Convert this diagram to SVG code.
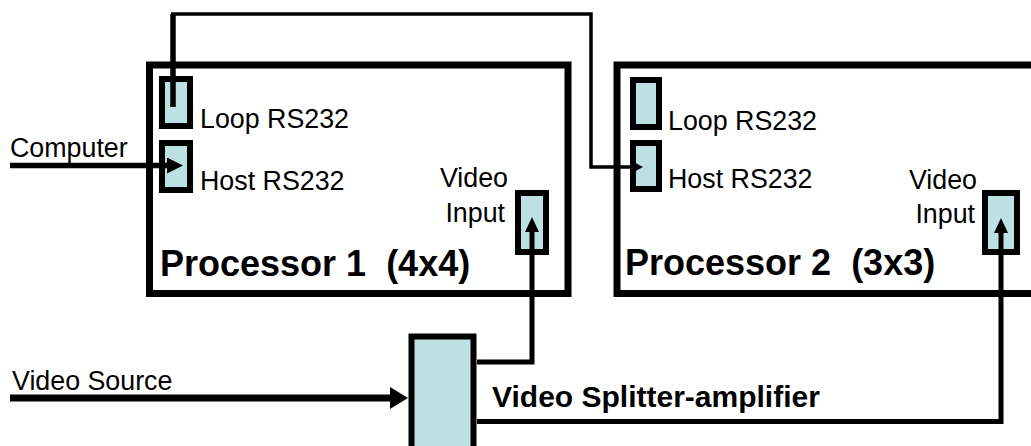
<svg xmlns="http://www.w3.org/2000/svg" width="1031" height="446" viewBox="0 0 1031 446">
<style>
.box{fill:#fff;stroke:#000;stroke-width:7}
.port{fill:#bde0e3;stroke:#000;stroke-width:6}
.t{font-family:"Liberation Sans",Arial,sans-serif;font-size:26.8px;fill:#000}
.b{font-family:"Liberation Sans",Arial,sans-serif;font-weight:bold;fill:#000;white-space:pre}
.c{fill:none;stroke:#000;stroke-linejoin:miter}
</style>
<defs>
<marker id="a16" markerUnits="userSpaceOnUse" markerWidth="16" markerHeight="16" refX="0" refY="8" orient="auto"><path d="M0,0L16,8L0,16z"/></marker>
<marker id="a12" markerUnits="userSpaceOnUse" markerWidth="12" markerHeight="13" refX="0" refY="6.5" orient="auto"><path d="M0,0L12,6.5L0,13z"/></marker>
<marker id="a15" markerUnits="userSpaceOnUse" markerWidth="15" markerHeight="14" refX="0" refY="7" orient="auto"><path d="M0,0L15,7L0,14z"/></marker>
<marker id="a18" markerUnits="userSpaceOnUse" markerWidth="18" markerHeight="22" refX="0" refY="11" orient="auto"><path d="M0,0L18,11L0,22z"/></marker>
</defs>
<g id="processor1">
<rect class="box" x="149.5" y="65" width="418.5" height="228.5"/>
<rect class="port" x="162" y="79" width="28" height="47"/>
<rect class="port" x="162" y="143" width="28" height="47"/>
<rect class="port" x="518" y="193" width="28" height="59"/>
<text class="t" x="200" y="128">Loop RS232</text>
<text class="t" x="200" y="190">Host RS232</text>
<text class="t" x="508" y="187" text-anchor="end" font-size="25.5">Video</text>
<text class="t" x="505" y="222" text-anchor="end" font-size="25.5">Input</text>
<text class="b" x="160" y="276" font-size="36">Processor 1  (4x4)</text>
</g>
<g id="processor2">
<rect class="box" x="617" y="65" width="500" height="228.5"/>
<rect class="port" x="633" y="80" width="26" height="47"/>
<rect class="port" x="633" y="143" width="26" height="46"/>
<rect class="port" x="985" y="193" width="32" height="59"/>
<text class="t" x="668" y="130">Loop RS232</text>
<text class="t" x="668" y="188">Host RS232</text>
<text class="t" x="977" y="189" text-anchor="end" font-size="25.5">Video</text>
<text class="t" x="975" y="223" text-anchor="end" font-size="25.5">Input</text>
<text class="b" x="625" y="275" font-size="36">Processor 2  (3x3)</text>
</g>
<g id="splitter">
<rect class="port" x="411.5" y="336.5" width="62" height="125" stroke-width="7"/>
<text class="b" x="492" y="407" font-size="30">Video Splitter-amplifier</text>
</g>
<g id="inputs">
<text class="t" x="10" y="157" font-size="27.8">Computer</text>
<text class="t" x="12" y="390">Video Source</text>
</g>
<g id="connectors">
<path class="c" d="M10,165.5H167" stroke-width="5.5" marker-end="url(#a16)"/>
<path class="c" d="M10,398H390" stroke-width="7" marker-end="url(#a18)"/>
<path class="c" d="M173,107V14" stroke-width="5.5"/>
<path class="c" d="M173,107V16" stroke="#fff" stroke-width="2"/>
<path class="c" d="M171,14H591V167H631" stroke-width="3.5" marker-end="url(#a12)"/>
<path class="c" d="M477,362H532V232" stroke-width="5" marker-end="url(#a15)"/>
<path class="c" d="M477,421.5H1001V233" stroke-width="5" marker-end="url(#a15)"/>
</g>
</svg>
